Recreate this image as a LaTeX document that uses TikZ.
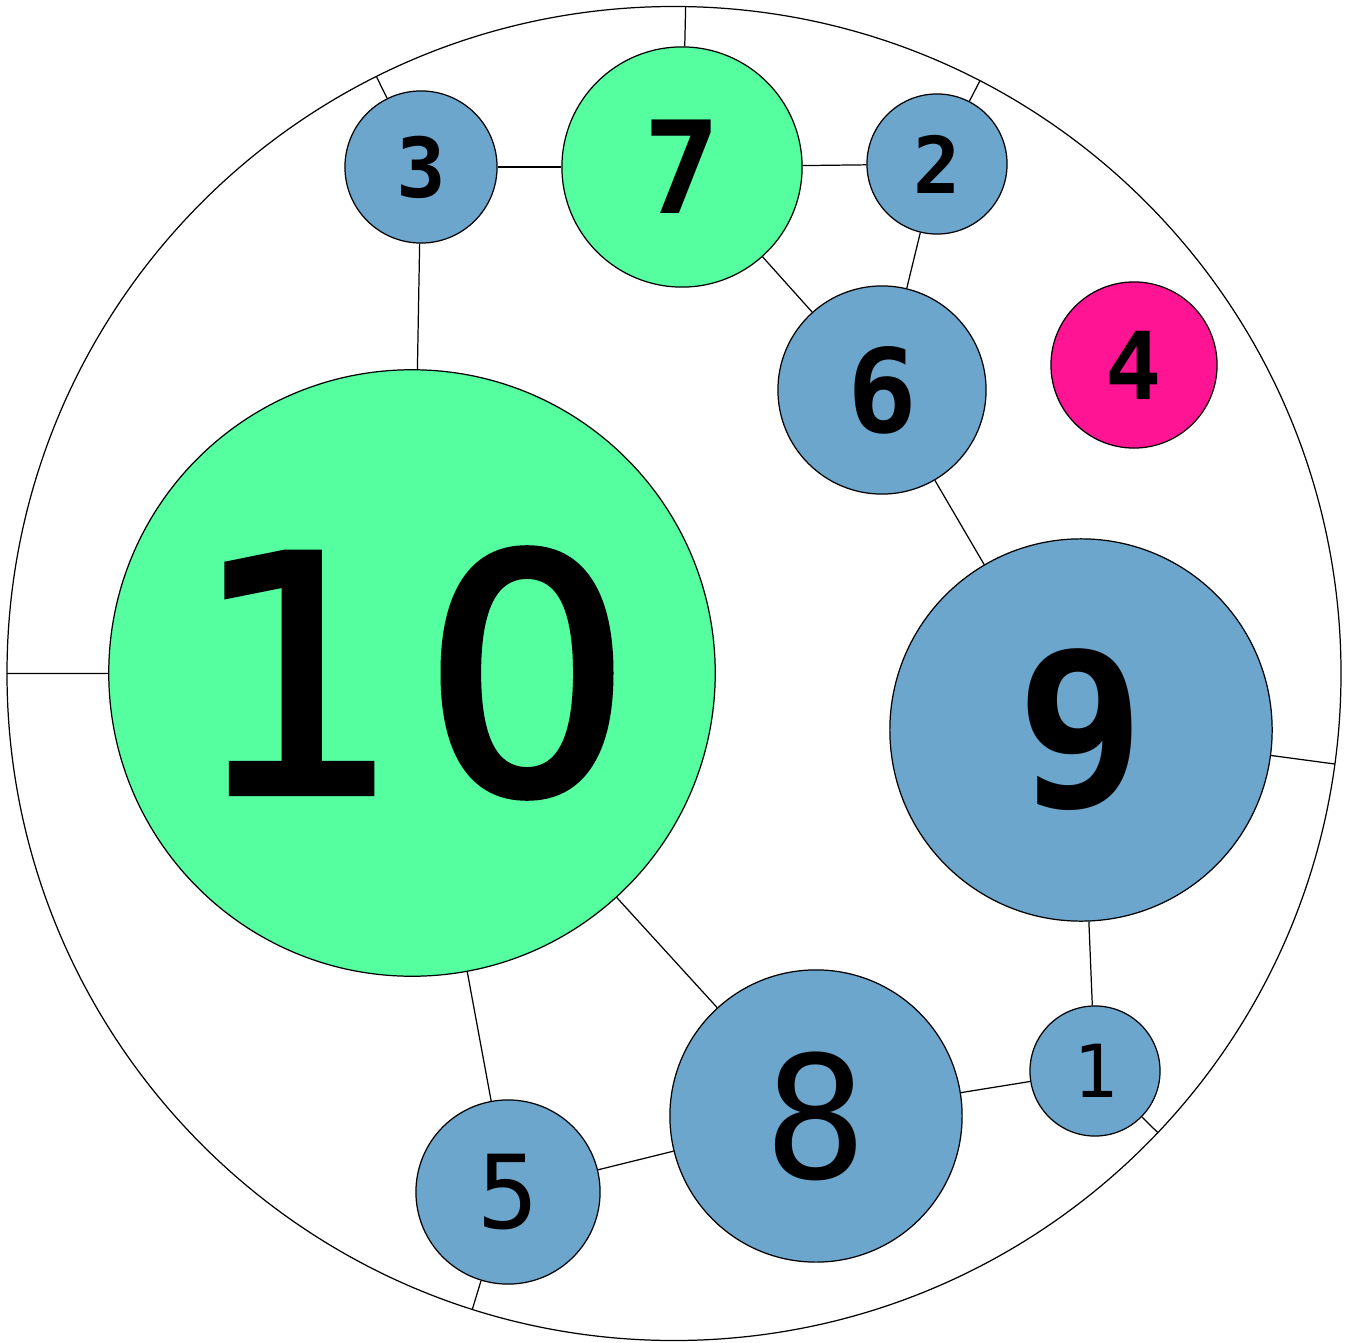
\documentclass[tikz,border=0pt]{standalone}
\usepackage{fontspec}
\newfontfamily\chiffre{DejaVu Sans Mono}
\newfontfamily\grandchiffre[FakeBold=2.5, LetterSpace=7]{DejaVu Sans}

\definecolor{bleuboule}{HTML}{6CA6CD}
\definecolor{vertboule}{HTML}{55FF9F}
\definecolor{roseboule}{HTML}{FF1493}

\tikzset{
    boule/.style 2 args={circle, draw=black, line width=0.35pt, fill=#1,
        minimum size=#2*0.02cm, inner sep=0pt},
    lien/.style={line width=0.35pt, black}
}

\begin{document}
\begin{tikzpicture}[x=0.01cm, y=-0.01cm]
        \useasboundingbox (0,0) rectangle (1352,1343);

        % -- Cercle extérieur --
        \coordinate (centre) at (674,673.5);
        \draw[lien] (centre) circle (667);

        % Points d'attache sur le cercle
        \path (centre) ++(180:667) coordinate (o10);
        \path (centre) ++(-116.5:667) coordinate (o3);
        \path (centre) ++(-89:667) coordinate (o7);
        \path (centre) ++(-62.7:667) coordinate (o2);
        \path (centre) ++(7.8:667) coordinate (o9);
        \path (centre) ++(43.5:667) coordinate (o1);
        \path (centre) ++(107.6:667) coordinate (o5);

        % -- Boules --
        \node[boule={vertboule}{303}] (n10) at (412,673) {\grandchiffre\fontsize{93}{93}\selectfont 10};
        \node[boule={bleuboule}{191}] (n9) at (1081,730) {\chiffre\bfseries\fontsize{61}{61}\selectfont 9};
        \node[boule={bleuboule}{146}] (n8) at (816,1116) {\chiffre\fontsize{48.5}{48.5}\selectfont 8};
        \node[boule={vertboule}{120}] (n7) at (682,167) {\chiffre\bfseries\fontsize{36.5}{36.5}\selectfont 7};
        \node[boule={bleuboule}{104}] (n6) at (882,390) {\chiffre\bfseries\fontsize{33}{33}\selectfont 6};
        \node[boule={bleuboule}{92}] (n5) at (508,1192) {\chiffre\fontsize{29}{29}\selectfont 5};
        \node[boule={roseboule}{83}] (n4) at (1134,365) {\chiffre\bfseries\fontsize{26.6}{26.6}\selectfont 4};
        \node[boule={bleuboule}{76}] (n3) at (421,167) {\chiffre\bfseries\fontsize{23.5}{23.5}\selectfont 3};
        \node[boule={bleuboule}{70}] (n2) at (937,164) {\chiffre\bfseries\fontsize{22.3}{22.3}\selectfont 2};
        \node[boule={bleuboule}{65}] (n1) at (1095,1071) {\chiffre\fontsize{20.8}{20.8}\selectfont 1};

        % -- Liens entre boules --
        \foreach \a/\b in {n3/n7, n7/n2, n7/n6, n2/n6, n3/n10, n6/n9, n10/n8, n10/n5, n5/n8, n8/n1, n9/n1}
            \draw[lien] (\a) -- (\b);

        % -- Liens vers le cercle --
        \foreach \n in {10,3,7,2,9,1,5}
            \draw[lien] (n\n) -- (o\n);
    \end{tikzpicture}
\end{document}
